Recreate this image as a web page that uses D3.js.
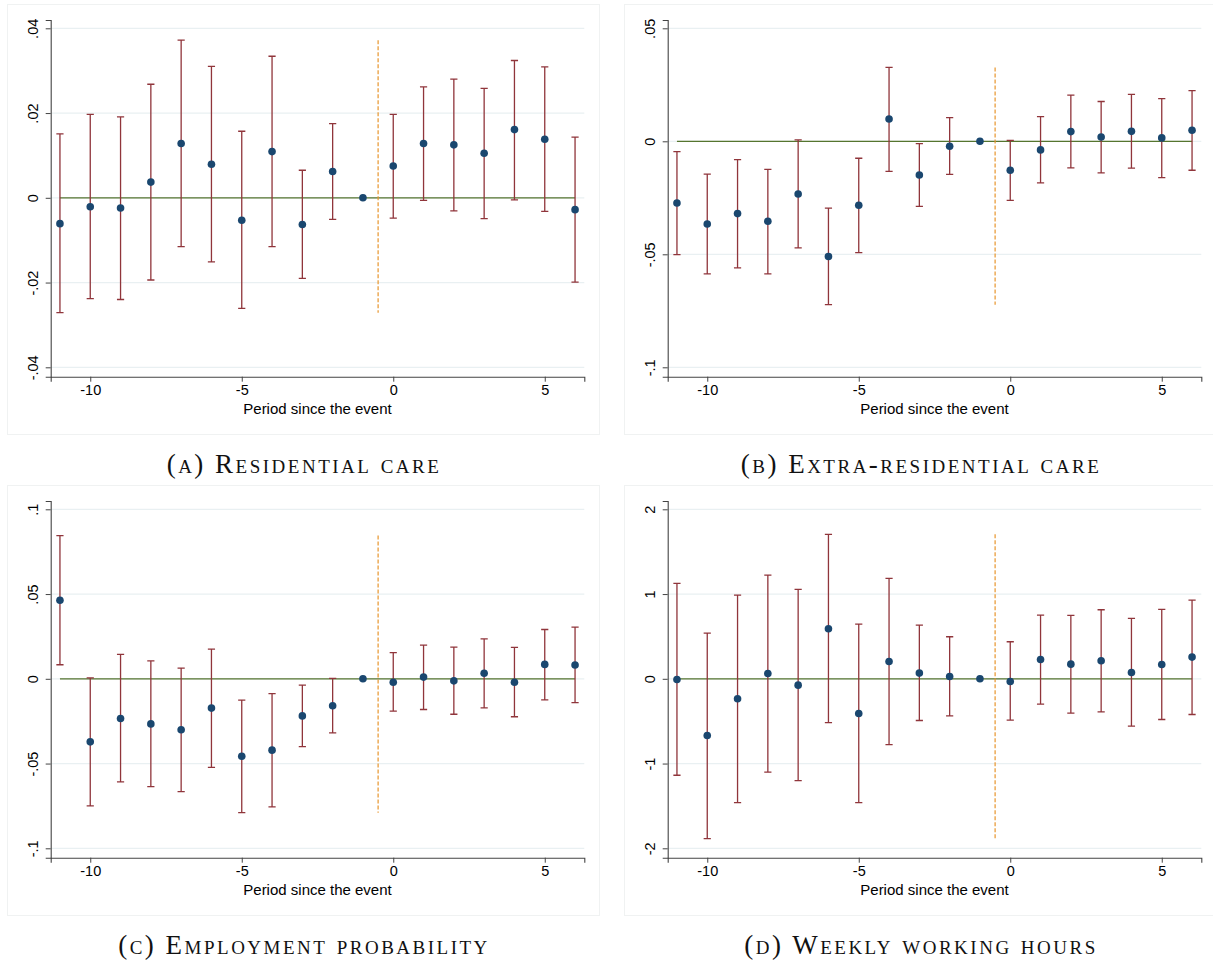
<!DOCTYPE html>
<html>
<head>
<meta charset="utf-8">
<script src="https://cdn.jsdelivr.net/npm/d3@7"></script>
<style>
  body { margin: 0; background: #fff; }
  svg { display: block; }
  .tick text { font-family: "Liberation Sans", Arial, sans-serif; font-size: 14.5px; fill: #000; }
  .caption { font-family: "Liberation Serif", "DejaVu Serif", serif; font-variant: small-caps; font-size: 27px; letter-spacing: 2.5px; fill: #111; }
  .xtitle { font-family: "Liberation Sans", Arial, sans-serif; font-size: 15px; fill: #000; }
</style>
</head>
<body>
<svg id="chart"></svg>
<script>
// event time
const periods = [-11, -10, -9, -8, -7, -6, -5, -4, -3, -2, -1, 0, 1, 2, 3, 4, 5, 6];
const xTicks = [-10, -5, 0, 5];
const xTickLabels = ['-10', '-5', '0', '5'];

// (a) residential care
const coefA = [-0.0061, -0.0021, -0.0024, 0.0037, 0.0128, 0.0079, -0.0053, 0.0109, -0.0063, 0.0062, 0, 0.0075, 0.0128, 0.0125, 0.0105, 0.0161, 0.0138, -0.0028];
const loA = [-0.0271, -0.0238, -0.0240, -0.0194, -0.0115, -0.0151, -0.0261, -0.0115, -0.0190, -0.0051, null, -0.0048, -0.0006, -0.0031, -0.0049, -0.0005, -0.0032, -0.0199];
const hiA = [0.0151, 0.0197, 0.0191, 0.0268, 0.0372, 0.0310, 0.0157, 0.0334, 0.0065, 0.0175, null, 0.0197, 0.0262, 0.0280, 0.0258, 0.0324, 0.0309, 0.0143];
const yTicksA = [-0.04, -0.02, 0, 0.02, 0.04];
const yLabelsA = ['-.04', '-.02', '0', '.02', '.04'];

// (b) extra-residential care
const coefB = [-0.0273, -0.0366, -0.0320, -0.0354, -0.0233, -0.0510, -0.0283, 0.0099, -0.0149, -0.0022, 0, -0.0128, -0.0038, 0.0043, 0.0019, 0.0044, 0.0015, 0.0049];
const loB = [-0.0501, -0.0587, -0.0560, -0.0587, -0.0472, -0.0723, -0.0493, -0.0133, -0.0288, -0.0146, null, -0.0261, -0.0184, -0.0118, -0.0140, -0.0119, -0.0161, -0.0128];
const hiB = [-0.0046, -0.0145, -0.0081, -0.0124, 0.0006, -0.0296, -0.0075, 0.0327, -0.0010, 0.0105, null, 0.0004, 0.0109, 0.0204, 0.0176, 0.0208, 0.0189, 0.0224];
const yTicksB = [-0.1, -0.05, 0, 0.05];
const yLabelsB = ['-.1', '-.05', '0', '.05'];

// (c) employment probability
const coefC = [0.0463, -0.0372, -0.0234, -0.0266, -0.0301, -0.0173, -0.0457, -0.0421, -0.0219, -0.0159, 0, -0.0020, 0.0010, -0.0012, 0.0033, -0.0020, 0.0085, 0.0081];
const loC = [0.0083, -0.0750, -0.0608, -0.0636, -0.0666, -0.0522, -0.0790, -0.0756, -0.0400, -0.0319, null, -0.0191, -0.0181, -0.0209, -0.0171, -0.0224, -0.0124, -0.0140];
const hiC = [0.0845, 0.0006, 0.0144, 0.0106, 0.0063, 0.0175, -0.0126, -0.0087, -0.0037, 0.0002, null, 0.0154, 0.0199, 0.0187, 0.0236, 0.0185, 0.0291, 0.0305];
const yTicksC = [-0.1, -0.05, 0, 0.05, 0.1];
const yLabelsC = ['-.1', '-.05', '0', '.05', '.1'];

// (d) weekly working hours
const coefD = [-0.008, -0.669, -0.236, 0.063, -0.075, 0.591, -0.409, 0.205, 0.067, 0.028, 0, -0.031, 0.228, 0.173, 0.213, 0.075, 0.169, 0.256];
const loD = [-1.138, -1.886, -1.461, -1.102, -1.201, -0.516, -1.461, -0.776, -0.492, -0.437, null, -0.488, -0.299, -0.406, -0.390, -0.559, -0.480, -0.421];
const hiD = [1.126, 0.539, 0.988, 1.224, 1.055, 1.705, 0.646, 1.185, 0.634, 0.496, null, 0.437, 0.752, 0.748, 0.815, 0.713, 0.819, 0.929];
const yTicksD = [-2, -1, 0, 1, 2];
const yLabelsD = ['-2', '-1', '0', '1', '2'];

const captions = ['(a) Residential care', '(b) Extra-residential care', '(c) Employment probability', '(d) Weekly working hours'];
const xTitle = 'Period since the event';

const W = 1213, H = 963;
const svg = d3.select('#chart').attr('width', W).attr('height', H);

// panel geometry (inside each panel group)
const plot = { left: 50.7, right: 584.3, top: 20, bottom: 376.7 };
const tickTop = 28.3, tickBottom = 367.3;   // where the outer y ticks sit
const unitPx = 30.3;                       // px per period

const panels = [
    { dx: 0, dy: 0, coef: coefA, lo: loA, hi: hiA, ticks: yTicksA, labels: yLabelsA, cap: captions[0] },
    { dx: 617, dy: 0, coef: coefB, lo: loB, hi: hiB, ticks: yTicksB, labels: yLabelsB, cap: captions[1] },
    { dx: 0, dy: 481, coef: coefC, lo: loC, hi: hiC, ticks: yTicksC, labels: yLabelsC, cap: captions[2] },
    { dx: 617, dy: 481, coef: coefD, lo: loD, hi: hiD, ticks: yTicksD, labels: yLabelsD, cap: captions[3] }
];

const navy = '#1a476f', maroon = '#90353b', olive = '#55752f', orange = '#e8952c';

panels.forEach(p => {
    const g = svg.append('g').attr('transform', `translate(${p.dx},${p.dy})`);

    // faint graph region frame
    g.append('rect')
        .attr('x', 7.5).attr('y', 4.5).attr('width', 592).attr('height', 430)
        .attr('fill', 'none').attr('stroke', '#f0f2f2').attr('stroke-width', 1);

    const tMin = d3.min(p.ticks), tMax = d3.max(p.ticks);
    const perPx = (tMax - tMin) / (tickBottom - tickTop);
    const yscale = d3.scaleLinear()
        .domain([tMin - perPx * (plot.bottom - tickBottom), tMax + perPx * (tickTop - plot.top)])
        .range([plot.bottom, plot.top]);

    const padX = (plot.right - plot.left - unitPx * 17) / 2 / unitPx;
    const xscale = d3.scaleLinear()
        .domain([-11 - padX, 6 + padX])
        .range([plot.left, plot.right]);

    // gridlines
    g.append('g').selectAll('line')
        .data(p.ticks)
        .enter().append('line')
        .attr('x1', plot.left).attr('x2', plot.right)
        .attr('y1', d => yscale(d)).attr('y2', d => yscale(d))
        .attr('stroke', '#e9f0f2').attr('stroke-width', 1.2);

    // y axis
    const yaxis = d3.axisLeft(yscale).tickValues(p.ticks).tickSize(5).tickFormat((d, i) => p.labels[i]);
    const yg = g.append('g').attr('transform', `translate(${plot.left},0)`).call(yaxis);
    yg.select('.domain').attr('stroke', '#444').attr('stroke-width', 1.1);
    yg.selectAll('.tick line').attr('stroke', '#444');
    yg.selectAll('.tick text')
        .attr('x', null).attr('dy', null)
        .attr('text-anchor', 'middle')
        .attr('transform', 'translate(-12.5,0) rotate(-90)');

    // x axis
    const xaxis = d3.axisBottom(xscale).tickValues(xTicks).tickSize(5).tickFormat((d, i) => xTickLabels[i]);
    const xg = g.append('g').attr('transform', `translate(0,${plot.bottom})`).call(xaxis);
    xg.select('.domain').attr('stroke', '#444').attr('stroke-width', 1.1);
    xg.selectAll('.tick line').attr('stroke', '#444');
    xg.selectAll('.tick text').attr('y', 8);

    g.append('text').attr('class', 'xtitle')
        .attr('x', (plot.left + plot.right) / 2).attr('y', 414)
        .attr('text-anchor', 'middle').text(xTitle);

    // zero reference line
    g.append('line')
        .attr('x1', xscale(periods[0])).attr('x2', xscale(periods[periods.length - 1]))
        .attr('y1', yscale(0)).attr('y2', yscale(0))
        .attr('stroke', olive).attr('stroke-width', 1.3);

    // event marker, spans the full range of the intervals
    const ciMin = d3.min(p.lo), ciMax = d3.max(p.hi);
    g.append('line')
        .attr('x1', xscale(-0.5)).attr('x2', xscale(-0.5))
        .attr('y1', yscale(ciMax)).attr('y2', yscale(ciMin))
        .attr('stroke', orange).attr('stroke-width', 1.2)
        .attr('stroke-dasharray', '4,2');

    const rows = periods.map((t, i) => ({ t: t, b: p.coef[i], lo: p.lo[i], hi: p.hi[i] }));
    const withCi = rows.filter(d => d.lo !== null);

    // confidence intervals
    const bars = g.append('g').attr('stroke', maroon).attr('stroke-width', 1.3).attr('fill', 'none');
    bars.selectAll('path')
        .data(withCi)
        .enter().append('path')
        .attr('d', d => {
            const x = xscale(d.t), y1 = yscale(d.hi), y2 = yscale(d.lo), w = 3.6;
            return `M${x},${y1}V${y2}M${x - w},${y1}H${x + w}M${x - w},${y2}H${x + w}`;
        });

    // point estimates
    g.append('g').selectAll('circle')
        .data(rows)
        .enter().append('circle')
        .attr('cx', d => xscale(d.t))
        .attr('cy', d => yscale(d.b))
        .attr('r', 3.8)
        .attr('fill', navy);

    g.append('text').attr('class', 'caption')
        .attr('x', 304).attr('y', 473)
        .attr('text-anchor', 'middle').text(p.cap);
});
</script>
</body>
</html>
